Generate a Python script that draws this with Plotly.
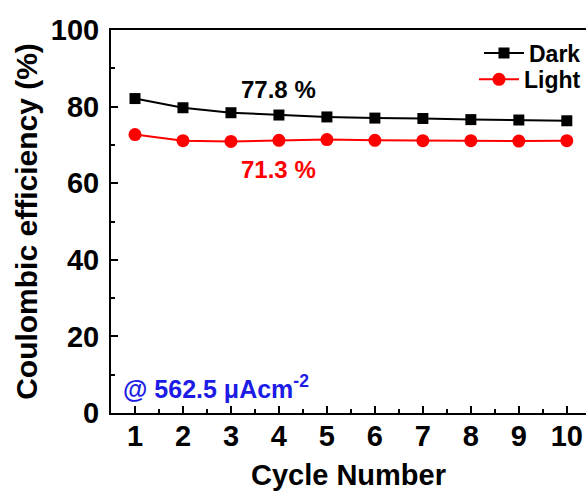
import plotly.graph_objects as go

# Coulombic efficiency per cycle under dark and illuminated conditions
cycles = [1, 2, 3, 4, 5, 6, 7, 8, 9, 10]
dark_ce = [82.1, 79.7, 78.4, 77.8, 77.3, 77.0, 76.9, 76.6, 76.5, 76.3]
light_ce = [72.7, 71.1, 70.9, 71.2, 71.4, 71.2, 71.1, 71.1, 71.0, 71.1]
x_ticks = [1, 2, 3, 4, 5, 6, 7, 8, 9, 10]
y_ticks = [0, 20, 40, 60, 80, 100]

FONT = "Liberation Sans"

fig = go.Figure()
fig.add_trace(go.Scatter(
    x=cycles, y=dark_ce, name="<b>Dark</b>", mode="lines+markers",
    line=dict(color="black", width=2),
    marker=dict(symbol="square", size=11, color="black"),
    legend="legend",
))
fig.add_trace(go.Scatter(
    x=cycles, y=light_ce, name="<b>Light</b>", mode="lines+markers",
    line=dict(color="#ff0000", width=2),
    marker=dict(symbol="circle", size=13, color="#ff0000"),
    legend="legend2",
))

axis_common = dict(
    showline=True, linecolor="black", linewidth=2,
    ticks="inside", tickcolor="black", tickwidth=2, ticklen=7,
    showgrid=False, zeroline=False,
    tickfont=dict(family=FONT, size=29, color="black"),
)

# x axis mirrored to draw the top frame line; the right side stays open
fig.update_xaxes(
    **axis_common, mirror=True,
    range=[0.5, 10.4], tickvals=x_ticks, ticktext=[f"<b>{v}</b>" for v in x_ticks],
    minor=dict(ticks="inside", ticklen=4, tickwidth=2, tickcolor="black", dtick=0.5, tick0=0.5),
    ticklabelstandoff=-4,
    title=dict(text="<b>Cycle Number</b>", font=dict(family=FONT, size=29, color="black"), standoff=14),
)
fig.update_yaxes(
    **axis_common, mirror=False,
    range=[0, 100], tickvals=y_ticks, ticktext=[f"<b>{v}</b>" for v in y_ticks],
    minor=dict(ticks="inside", ticklen=4, tickwidth=2, tickcolor="black", dtick=10),
    ticklabelstandoff=4,
    title=dict(text="<b>Coulombic efficiency (%)</b>", font=dict(family=FONT, size=30, color="black"), standoff=4),
)

fig.add_annotation(x=4, y=84.5, text="<b>77.8 %</b>", showarrow=False,
                   font=dict(family=FONT, size=24, color="black"))
fig.add_annotation(x=4, y=63.5, text="<b>71.3 %</b>", showarrow=False,
                   font=dict(family=FONT, size=24, color="#ff0000"))
fig.add_annotation(x=0.022, y=0.022, xref="paper", yref="paper", xanchor="left", yanchor="bottom",
                   text="<b>@ 562.5 \u03bcAcm<sup>-2</sup></b>", showarrow=False,
                   font=dict(family=FONT, size=25, color="#1c1ce6"))

legend_style = dict(x=1.0, xanchor="right", yanchor="middle",
                    bgcolor="rgba(0,0,0,0)", itemwidth=40,
                    font=dict(family=FONT, size=23, color="black"))

fig.update_layout(
    width=586, height=491,
    margin=dict(l=111, r=0, t=30, b=78),
    paper_bgcolor="white", plot_bgcolor="white",
    showlegend=True,
    legend=dict(y=0.94, **legend_style),
    legend2=dict(y=0.871, **legend_style),
)

fig.write_html("out.html")
